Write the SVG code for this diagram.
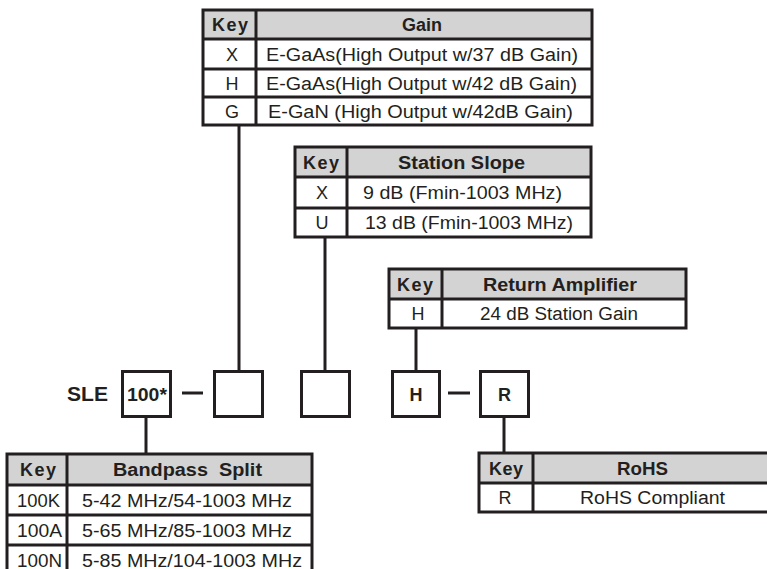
<svg xmlns="http://www.w3.org/2000/svg" width="767" height="569" viewBox="0 0 767 569">
<style>
.bg{fill:#ffffff}
.hd{fill:#d3d3d3;stroke:none}
.ln{stroke:#231f20;stroke-width:3;fill:none}
.cell{fill:#ffffff;stroke:#231f20;stroke-width:3}
.t{font-family:"Liberation Sans",Arial,sans-serif;font-size:18px;fill:#231f20}
.b{font-family:"Liberation Sans",Arial,sans-serif;font-size:18px;font-weight:bold;fill:#231f20}
.m{text-anchor:middle}
</style>
<rect class="bg" x="0" y="0" width="767" height="569"/>

<g id="connectors">
<line class="ln" x1="239" y1="125" x2="239" y2="371"/>
<line class="ln" x1="325" y1="237" x2="325" y2="371"/>
<line class="ln" x1="416" y1="328" x2="416" y2="371"/>
<line class="ln" x1="146" y1="416" x2="146" y2="454"/>
<line class="ln" x1="504" y1="416" x2="504" y2="453"/>
<line class="ln" x1="182" y1="393" x2="203" y2="393"/>
<line class="ln" x1="448" y1="393" x2="470" y2="393"/>
</g>

<g id="gain-table">
<rect class="hd" x="203" y="10" width="389" height="29"/>
<rect class="ln" x="203" y="10" width="389" height="115"/>
<line class="ln" x1="203" y1="39" x2="592" y2="39"/>
<line class="ln" x1="203" y1="69" x2="592" y2="69"/>
<line class="ln" x1="203" y1="97" x2="592" y2="97"/>
<line class="ln" x1="256" y1="10" x2="256" y2="125"/>
<text class="b" x="212" y="31" textLength="36" lengthAdjust="spacing">Key</text>
<text class="b m" x="422" y="31">Gain</text>
<text class="t m" x="232" y="61">X</text>
<text class="t" x="266" y="61" textLength="312" lengthAdjust="spacingAndGlyphs">E-GaAs(High Output w/37 dB Gain)</text>
<text class="t m" x="232" y="89.5">H</text>
<text class="t" x="266" y="89.5" textLength="311" lengthAdjust="spacingAndGlyphs">E-GaAs(High Output w/42 dB Gain)</text>
<text class="t m" x="232" y="117.5">G</text>
<text class="t" x="268" y="117.5" textLength="305" lengthAdjust="spacingAndGlyphs">E-GaN (High Output w/42dB Gain)</text>
</g>

<g id="slope-table">
<rect class="hd" x="295" y="147" width="296" height="30"/>
<rect class="ln" x="295" y="147" width="296" height="90"/>
<line class="ln" x1="295" y1="177" x2="591" y2="177"/>
<line class="ln" x1="295" y1="208" x2="591" y2="208"/>
<line class="ln" x1="347" y1="147" x2="347" y2="237"/>
<text class="b" x="303" y="168.5" textLength="36" lengthAdjust="spacing">Key</text>
<text class="b" x="398" y="168.5" textLength="127" lengthAdjust="spacingAndGlyphs">Station Slope</text>
<text class="t m" x="322" y="199">X</text>
<text class="t" x="363" y="199" textLength="199" lengthAdjust="spacingAndGlyphs">9 dB (Fmin-1003 MHz)</text>
<text class="t m" x="322" y="229">U</text>
<text class="t" x="365" y="229" textLength="208" lengthAdjust="spacingAndGlyphs">13 dB (Fmin-1003 MHz)</text>
</g>

<g id="return-table">
<rect class="hd" x="389" y="269" width="297" height="30"/>
<rect class="ln" x="389" y="269" width="297" height="59"/>
<line class="ln" x1="389" y1="299" x2="686" y2="299"/>
<line class="ln" x1="442" y1="269" x2="442" y2="328"/>
<text class="b" x="397" y="290.5" textLength="36" lengthAdjust="spacing">Key</text>
<text class="b" x="483" y="290.5" textLength="154" lengthAdjust="spacingAndGlyphs">Return Amplifier</text>
<text class="t m" x="418" y="320">H</text>
<text class="t" x="480" y="320" textLength="158" lengthAdjust="spacingAndGlyphs">24 dB Station Gain</text>
</g>

<g id="sle-label">
<text class="b" x="67" y="401" textLength="41" lengthAdjust="spacingAndGlyphs" style="font-size:21px">SLE</text>
</g>

<g id="box-split">
<rect class="cell" x="122.5" y="371.5" width="48" height="45"/>
<text class="b" x="127" y="400.5" textLength="40" lengthAdjust="spacingAndGlyphs">100*</text>
</g>
<g id="box-gain">
<rect class="cell" x="214.5" y="371.5" width="48" height="45"/>
</g>
<g id="box-slope">
<rect class="cell" x="301.5" y="371.5" width="48" height="45"/>
</g>
<g id="box-return">
<rect class="cell" x="392.5" y="371.5" width="47" height="45"/>
<text class="b m" x="416" y="400.5">H</text>
</g>
<g id="box-rohs">
<rect class="cell" x="480.5" y="371.5" width="48" height="45"/>
<text class="b m" x="504.5" y="400.5">R</text>
</g>

<g id="bandpass-table">
<rect class="hd" x="7" y="454" width="305" height="31"/>
<rect class="ln" x="7" y="454" width="305" height="122"/>
<line class="ln" x1="7" y1="485" x2="312" y2="485"/>
<line class="ln" x1="7" y1="515" x2="312" y2="515"/>
<line class="ln" x1="7" y1="545" x2="312" y2="545"/>
<line class="ln" x1="67" y1="454" x2="67" y2="576"/>
<text class="b" x="20" y="476" textLength="36" lengthAdjust="spacing">Key</text>
<text class="b" x="113" y="476" textLength="149" lengthAdjust="spacingAndGlyphs" xml:space="preserve">Bandpass  Split</text>
<text class="t" x="17" y="506.5" textLength="43" lengthAdjust="spacingAndGlyphs">100K</text>
<text class="t" x="82" y="506.5" textLength="210" lengthAdjust="spacingAndGlyphs">5-42 MHz/54-1003 MHz</text>
<text class="t" x="17" y="536.5" textLength="45" lengthAdjust="spacingAndGlyphs">100A</text>
<text class="t" x="82" y="536.5" textLength="210" lengthAdjust="spacingAndGlyphs">5-65 MHz/85-1003 MHz</text>
<text class="t" x="17" y="566.5" textLength="45" lengthAdjust="spacingAndGlyphs">100N</text>
<text class="t" x="82" y="566.5" textLength="220" lengthAdjust="spacingAndGlyphs">5-85 MHz/104-1003 MHz</text>
</g>

<g id="rohs-table">
<rect class="hd" x="479" y="453" width="292" height="30"/>
<rect class="ln" x="479" y="453" width="292" height="59"/>
<line class="ln" x1="479" y1="483" x2="771" y2="483"/>
<line class="ln" x1="533" y1="453" x2="533" y2="512"/>
<text class="b" x="489" y="474.5" textLength="34" lengthAdjust="spacing">Key</text>
<text class="b" x="617" y="474.5" textLength="51" lengthAdjust="spacingAndGlyphs">RoHS</text>
<text class="t m" x="505" y="504">R</text>
<text class="t" x="580" y="504" textLength="145" lengthAdjust="spacingAndGlyphs">RoHS Compliant</text>
</g>
</svg>
